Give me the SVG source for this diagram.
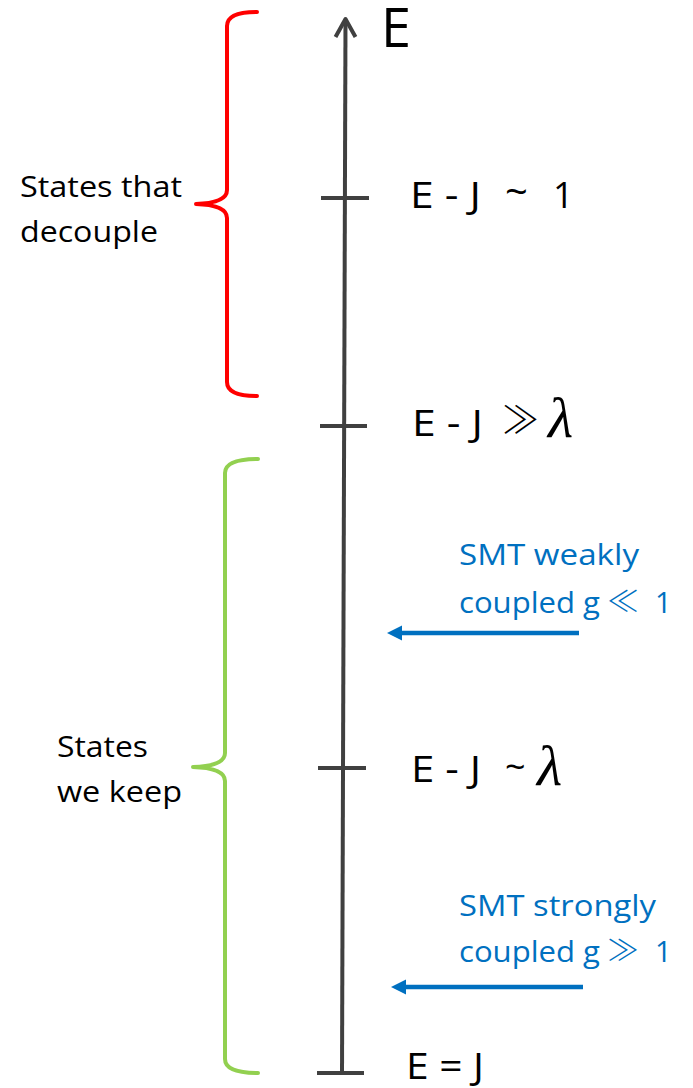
<svg xmlns="http://www.w3.org/2000/svg" width="693" height="1088" viewBox="0 0 693 1088">
<style>
.t{font-family:"Open Sans","DejaVu Sans",sans-serif;fill:#000}
.b{font-family:"Open Sans","DejaVu Sans",sans-serif;fill:#0070C0;font-size:29px}
.m{font-family:"Noto Sans CJK JP","DejaVu Sans",sans-serif;font-weight:300}
.lam{font-family:"Liberation Serif","DejaVu Serif",serif;font-style:italic;fill:#000;font-size:58px}
.ax{stroke:#404040;stroke-width:4;fill:none;stroke-linecap:butt}
.br{fill:none;stroke-width:4;stroke-linecap:round;stroke-linejoin:round}
.ar{stroke:#0070C0;stroke-width:4.5;fill:none}
.ah{fill:#0070C0}
</style>
<g id="axis">
<path class="ax" d="M342,1073 L345.5,20"/>
<path class="ax" d="M335.5,37 L345.5,19 L355.5,37" stroke-linecap="round" stroke-linejoin="round"/>
<path class="ax" d="M321,198 L369,198"/>
<path class="ax" d="M320,426 L367,426"/>
<path class="ax" d="M318,768 L366,768"/>
<path class="ax" d="M317,1073 L364,1073"/>
<text class="t" x="381" y="47" font-size="54">E</text>
</g>
<g id="red-brace">
<path class="br" stroke="#FF0000" d="M257,12 Q227,12 227,26 L227,190 Q227,203 196,204 Q227,205 227,218 L227,382 Q227,396 257,396"/>
<text class="t" x="20" y="197" font-size="30" textLength="162" lengthAdjust="spacingAndGlyphs">States that</text>
<text class="t" x="20" y="242" font-size="30" textLength="138" lengthAdjust="spacingAndGlyphs">decouple</text>
</g>
<g id="green-brace">
<path class="br" stroke="#92D050" d="M258,459 Q225,459 225,473 L225,753 Q225,766 193,767 Q225,768 225,781 L225,1059 Q225,1073 258,1073"/>
<text class="t" x="57" y="757" font-size="30" textLength="91" lengthAdjust="spacingAndGlyphs">States</text>
<text class="t" x="57" y="802" font-size="30" textLength="125" lengthAdjust="spacingAndGlyphs">we keep</text>
</g>
<g id="label-1">
<text class="t" x="410" y="208" font-size="36" textLength="71" lengthAdjust="spacingAndGlyphs">E - J</text>
<text class="t" x="505" y="206" font-size="40">~</text>
<text class="t" x="553" y="208" font-size="36">1</text>
</g>
<g id="label-2">
<text class="t" x="412" y="436" font-size="36" textLength="71" lengthAdjust="spacingAndGlyphs">E - J</text>
<text class="t m" x="502" y="433" font-size="38" textLength="37" lengthAdjust="spacingAndGlyphs">≫</text>
<text class="lam" x="548" y="437">λ</text>
</g>
<g id="label-3">
<text class="t" x="411" y="782" font-size="36" textLength="70" lengthAdjust="spacingAndGlyphs">E - J</text>
<text class="t" x="505" y="780" font-size="36">~</text>
<text class="lam" x="537" y="785">λ</text>
</g>
<g id="label-4">
<text class="t" x="406" y="1079" font-size="36" textLength="78" lengthAdjust="spacingAndGlyphs">E = J</text>
</g>
<g id="weak">
<text class="b" x="459" y="565" textLength="180" lengthAdjust="spacingAndGlyphs">SMT weakly</text>
<text class="b" x="459" y="613" textLength="141" lengthAdjust="spacingAndGlyphs">coupled g</text>
<text class="b m" x="607" y="612" font-size="30" textLength="32" lengthAdjust="spacingAndGlyphs">≪</text>
<text class="b" x="655" y="613" font-size="31">1</text>
</g>
<g id="strong">
<text class="b" x="459" y="916" textLength="197" lengthAdjust="spacingAndGlyphs">SMT strongly</text>
<text class="b" x="459" y="962" textLength="141" lengthAdjust="spacingAndGlyphs">coupled g</text>
<text class="b m" x="607" y="961" font-size="30" textLength="32" lengthAdjust="spacingAndGlyphs">≫</text>
<text class="b" x="655" y="962" font-size="31">1</text>
</g>
<g id="connectors">
<path class="ar" d="M579,633 L400,633"/>
<path class="ah" d="M387,633 L402,625.5 L402,640.5 Z"/>
<path class="ar" d="M583,987 L404,987"/>
<path class="ah" d="M391,987 L406,979.5 L406,994.5 Z"/>
</g>
</svg>
